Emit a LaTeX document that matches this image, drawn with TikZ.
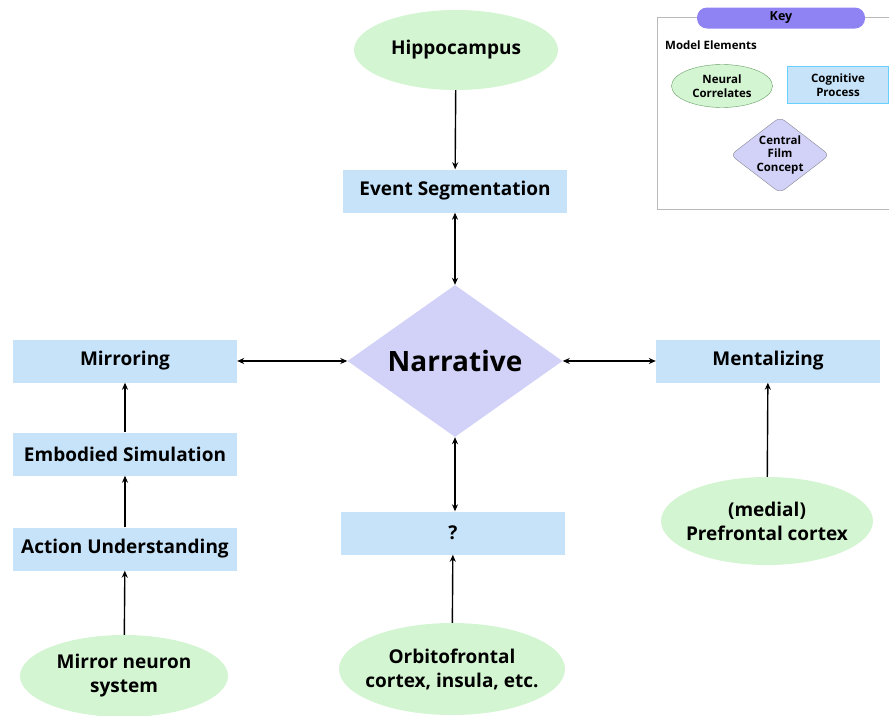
\documentclass[tikz,border=0pt]{standalone}
\usepackage{fontspec}
\setmainfont{Open Sans}
\usetikzlibrary{shapes.geometric,arrows.meta}
\definecolor{neuralgreen}{HTML}{D4F5D2}
\definecolor{cogblue}{HTML}{C6E3F9}
\definecolor{filmlilac}{HTML}{D2D2F8}
\definecolor{keypill}{HTML}{8F82F2}
\begin{document}
\begin{tikzpicture}[
    x=1pt, y=-1pt,
    neural/.style={ellipse, fill=neuralgreen, minimum width=208pt, minimum height=82pt, inner xsep=-12pt, inner ysep=0pt, align=center, font=\fontsize{19}{24}\selectfont\bfseries},
    process/.style={rectangle, fill=cogblue, minimum width=224pt, minimum height=43pt, inner sep=0pt, font=\fontsize{19}{22}\selectfont\bfseries},
    concept/.style={diamond, fill=filmlilac, minimum width=215pt, minimum height=152pt, aspect=1.41, inner sep=0pt, font=\fontsize{28}{32}\selectfont\bfseries},
    link/.style={-{Stealth[length=7pt,width=6pt]}, line width=1.4pt},
    both/.style={{Stealth[length=7pt,width=6pt]}-{Stealth[length=7pt,width=6pt]}, line width=1.4pt},
    keytext/.style={font=\fontsize{11.5}{13.5}\selectfont\bfseries, align=center, inner sep=0pt},
]
    \useasboundingbox (0,0) rectangle (889,715);

    % Key
    \node[draw=gray!55, line width=0.8pt, minimum width=232pt, minimum height=192pt, inner sep=0pt] (keybox) at (773,113) {};
    \node[rectangle, rounded corners=10pt, fill=keypill, minimum width=168pt, minimum height=21pt, font=\fontsize{12.5}{14}\selectfont\bfseries] (keylabel) at (781,18) {Key};
    \node[keytext, anchor=west] (elements) at (665,45) {Model Elements};
    \node[keytext, ellipse, draw=green!35!black!60, fill=neuralgreen, minimum width=101pt, minimum height=43pt] (keyneural) at (722,86) {Neural\\Correlates};
    \node[keytext, rectangle, draw=blue!30!cyan!60, fill=cogblue, minimum width=101pt, minimum height=37pt] (keyprocess) at (838,85) {Cognitive\\Process};
    \node[keytext, diamond, rounded corners=6pt, draw=filmlilac!40!black!70, fill=filmlilac, minimum width=99pt, minimum height=76pt, aspect=1.3] (keyconcept) at (780,155) {Central\\Film\\Concept};

    % Centre
    \node[concept] (narrative) at (455,361) {Narrative};

    % Top branch
    \node[neural, minimum width=204pt, minimum height=80pt] (hippo) at (456,50) {Hippocampus};
    \node[process] (event) at (455,191) {Event Segmentation};

    % Left branch
    \node[process] (mirroring) at (125,361) {Mirroring};
    \node[process] (embodied) at (125,454) {Embodied Simulation};
    \node[process] (action) at (125,549) {Action Understanding};
    \node[neural] (mirrorneuron) at (124,676) {Mirror neuron\\system};

    % Right branch
    \node[process] (mentalizing) at (768,361) {Mentalizing};
    \node[neural, minimum width=212pt, minimum height=88pt] (prefrontal) at (767,521) {(medial)\\Prefrontal cortex};

    % Bottom branch
    \node[process] (unknown) at (453,533) {?};
    \node[neural, minimum width=226pt, minimum height=92pt] (orbito) at (452,669) {Orbitofrontal\\cortex, insula, etc.};

    % Connectors
    \draw[link] (hippo) -- (event);
    \draw[both] (event) -- (narrative);
    \draw[both] (mirroring) -- (narrative);
    \draw[both] (mentalizing) -- (narrative);
    \draw[both] (unknown.north -| narrative) -- (narrative);
    \draw[link] (embodied) -- (mirroring);
    \draw[link] (action) -- (embodied);
    \draw[link] (mirrorneuron) -- (action);
    \draw[link] (prefrontal) -- (mentalizing);
    \draw[link] (orbito) -- (unknown);
\end{tikzpicture}
\end{document}
